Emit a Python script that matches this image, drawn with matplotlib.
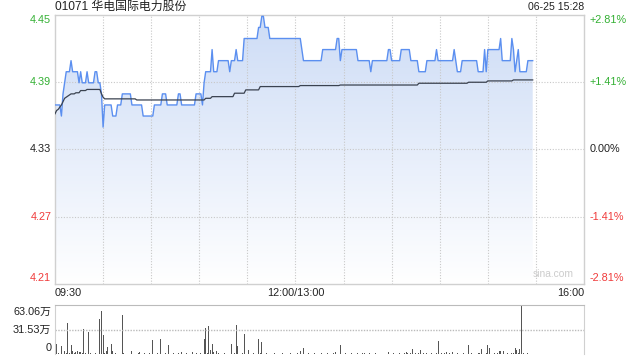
import numpy as np
import matplotlib
matplotlib.use('Agg')
import matplotlib.pyplot as plt
from matplotlib.colors import LinearSegmentedColormap

plt.rcParams['font.family'] = ['Liberation Sans', 'Noto Sans CJK SC', 'DejaVu Sans']

TITLE = '01071 华电国际电力股份'
STAMP = '06-25 15:28'
PREV_CLOSE = 4.33
RANGE_PCT = 0.0281

# minute price, stored as (level, number of minutes)
price_levels = [4.37, 4.36, 4.38, 4.39, 4.40, 4.41, 4.40, 4.39, 4.40, 4.39, 4.40, 4.39,
                4.40, 4.39, 4.38, 4.35, 4.37, 4.36, 4.37, 4.38, 4.37, 4.36, 4.37, 4.38,
                4.37, 4.38, 4.37, 4.38, 4.37, 4.39, 4.40, 4.42, 4.40, 4.41, 4.40, 4.41,
                4.42, 4.41, 4.43, 4.44, 4.45, 4.44, 4.43, 4.42, 4.41, 4.42, 4.43, 4.41,
                4.42, 4.41, 4.40, 4.41, 4.42, 4.41, 4.42, 4.41, 4.40, 4.41, 4.42, 4.41,
                4.42, 4.41, 4.40, 4.41, 4.40, 4.42, 4.40, 4.42, 4.43, 4.41, 4.43, 4.42,
                4.40, 4.41, 4.42, 4.40, 4.41]
price_runs = [4, 1, 1, 1, 3, 1, 4, 1, 1, 3, 1, 4,
              2, 2, 1, 1, 5, 3, 3, 6, 7, 7, 5, 3,
              7, 2, 9, 4, 1, 1, 4, 1, 3, 7, 1, 3,
              1, 4, 9, 2, 2, 3, 20, 1, 12, 9, 2, 1,
              10, 8, 1, 10, 2, 6, 6, 5, 5, 6, 1, 10,
              1, 1, 3, 10, 4, 1, 1, 8, 1, 6, 1, 1,
              1, 1, 1, 5, 4]

# average price line, same encoding
avg_levels = [4.362, 4.365, 4.366, 4.368, 4.370, 4.373, 4.376, 4.377, 4.378, 4.379,
              4.380, 4.381, 4.383, 4.384, 4.380, 4.377, 4.3755, 4.3745, 4.376, 4.3775,
              4.3806, 4.3836, 4.3866, 4.3875, 4.388, 4.3896, 4.3905, 4.3917, 4.3926]
avg_runs = [1, 1, 1, 1, 1, 1, 1, 1, 1, 1,
            3, 3, 4, 9, 1, 1, 20, 43, 4, 14,
            7, 9, 25, 25, 49, 31, 12, 16, 13]

# volume per minute, in 万
volume = [7.7, 12.8, 1.5, 1.0, 10.6, 11.9, 4.3, 2.0, 40.4, 2.0,
          11.9, 4.3, 1.5, 3.0, 4.3, 3.5, 3.0, 1.5, 32.0, 2.0,
          1.0, 28.9, 1.5, 1.0, 1.0, 1.5, 1.0, 1.0, 45.2, 55.4,
          24.7, 1.5, 4.3, 9.0, 1.0, 13.2, 4.3, 1.0, 1.5, 1.0,
          1.0, 1.0, 50.3, 1.5, 1.0, 1.0, 1.0, 1.0, 4.3, 1.0,
          1.0, 1.0, 1.5, 3.0, 1.0, 1.0, 1.5, 1.0, 1.0, 2.0,
          1.0, 18.3, 1.0, 1.0, 1.5, 1.0, 19.6, 1.0, 1.0, 1.5,
          1.0, 11.9, 1.0, 1.0, 1.5, 1.0, 1.0, 1.5, 1.0, 2.5,
          1.0, 1.0, 1.5, 1.0, 1.0, 1.0, 3.0, 1.0, 1.5, 1.0,
          1.0, 1.5, 1.0, 19.6, 33.6, 1.5, 36.2, 5.5, 13.2, 3.0,
          1.0, 4.3, 1.5, 1.0, 1.0, 1.0, 1.5, 1.0, 1.0, 1.0,
          13.2, 1.0, 1.5, 37.5, 10.6, 1.0, 1.0, 1.5, 26.0, 1.0,
          1.0, 5.5, 1.0, 1.0, 1.5, 1.0, 14.8, 19.2, 1.5, 15.7,
          1.0, 1.0, 1.5, 1.0, 1.0, 1.0, 1.0, 1.5, 1.0, 1.0,
          1.0, 1.0, 1.5, 1.0, 1.0, 1.0, 1.0, 1.5, 1.0, 1.0,
          1.0, 1.5, 1.0, 4.3, 1.0, 7.5, 1.0, 1.0, 1.5, 1.0,
          1.0, 1.0, 1.5, 1.0, 1.0, 1.0, 1.5, 1.0, 1.0, 1.0,
          1.5, 1.0, 1.0, 1.0, 1.5, 3.4, 1.0, 1.0, 11.9, 1.0,
          1.0, 1.5, 1.0, 1.0, 1.0, 1.5, 1.0, 1.0, 1.0, 1.5,
          1.0, 1.0, 1.5, 2.0, 1.0, 1.0, 1.5, 1.0, 1.0, 1.0,
          1.5, 1.0, 1.0, 1.0, 1.5, 1.0, 1.0, 1.0, 3.0, 1.0,
          1.0, 1.5, 1.0, 1.0, 1.0, 1.5, 1.0, 1.0, 1.5, 3.5,
          2.0, 1.0, 1.5, 7.2, 1.0, 2.0, 1.0, 1.5, 5.0, 1.0,
          1.5, 1.0, 2.0, 1.0, 1.0, 1.5, 1.0, 1.0, 1.5, 17.4,
          1.0, 1.5, 1.0, 2.0, 3.0, 1.0, 1.5, 1.0, 3.0, 1.0,
          1.0, 1.5, 1.0, 1.0, 1.0, 1.5, 1.0, 1.0, 12.3, 1.0,
          1.5, 1.0, 1.0, 1.0, 1.5, 2.0, 6.4, 1.0, 1.0, 1.5,
          11.9, 8.3, 1.0, 1.0, 1.5, 1.0, 1.5, 4.0, 4.0, 1.0,
          4.0, 1.0, 1.5, 1.0, 1.0, 1.5, 2.0, 8.5, 5.0, 1.5,
          7.0, 63.06, 1.5, 1.0, 1.0, 1.5, 1.0, 1.0, 1.0]
VOL_MAX = 63.06

time_labels = ['09:30', '12:00/13:00', '16:00']
TOTAL_MIN = 330

GREEN = '#33b033'
RED = '#f03a3a'
DARK = '#222222'
GRID = '#c8c8c8'
BORDER = '#d0d0d0'

prices = np.repeat(price_levels, price_runs)
avg = np.repeat(avg_levels, avg_runs)
t = np.arange(len(prices))

ylo = PREV_CLOSE * (1 - RANGE_PCT)
yhi = PREV_CLOSE * (1 + RANGE_PCT)

fig = plt.figure(figsize=(6.4, 3.6), dpi=100)
ax = fig.add_axes([55/640, 1 - 284/360, 529/640, 269.5/360])
axv = fig.add_axes([55/640, 1 - 354.3/360, 529/640, 49.3/360])

# price area with a vertical gradient
poly = ax.fill_between(t, prices, ylo, color='none', lw=0)
cmap = LinearSegmentedColormap.from_list('fade', ['#ffffff', '#cddcf6'])
grad = np.linspace(1, 0, 256).reshape(-1, 1)
im = ax.imshow(grad, extent=[0, t[-1], ylo, yhi], aspect='auto', cmap=cmap,
               origin='upper', zorder=1)
im.set_clip_path(poly.get_paths()[0], transform=ax.transData)
ax.plot(t, prices, color='#5b8ff0', lw=1.0, zorder=3)
ax.plot(t, avg, color='#3a4250', lw=0.9, zorder=3)

ax.set_xlim(0, TOTAL_MIN)
ax.set_ylim(ylo, yhi)
ax.set_xticks(np.arange(30, TOTAL_MIN, 30))
ax.set_yticks([PREV_CLOSE * (1 - 0.0141), PREV_CLOSE, PREV_CLOSE * (1 + 0.0141)])
ax.grid(True, color=GRID, ls=(0, (1, 1.5)), lw=0.8, zorder=0)
ax.tick_params(length=0, labelleft=False, labelbottom=False)
for s in ax.spines.values():
    s.set_color(BORDER)
    s.set_linewidth(1.0)

px = (yhi - ylo) / 269.5
left_ticks = [(yhi - 5.5 * px, '4.45', GREEN), (PREV_CLOSE * 1.0141, '4.39', GREEN),
              (PREV_CLOSE, '4.33', DARK), (PREV_CLOSE * 0.9859, '4.27', RED),
              (ylo + 6 * px, '4.21', RED)]
right_ticks = ['+2.81%', '+1.41%', '0.00%', '-1.41%', '-2.81%']
tr = ax.get_yaxis_transform()
for (y, lab, c), rlab in zip(left_ticks, right_ticks):
    ax.text(-0.007, y, lab, transform=tr, ha='right', va='center', color=c, fontsize=7.8)
    ax.text(1.011, y, rlab, transform=tr, ha='left', va='center', color=c, fontsize=7.8)

ax.text(0.0, 1.0 + 0.028, TITLE, transform=ax.transAxes, ha='left', va='center',
        fontsize=8.6, color=DARK)
ax.text(1.0, 1.0 + 0.028, STAMP, transform=ax.transAxes, ha='right', va='center',
        fontsize=7.6, color=DARK)
ax.text(0.0, -0.035, time_labels[0], transform=ax.transAxes, ha='left', va='center',
        fontsize=7.8, color=DARK)
ax.text(150 / TOTAL_MIN, -0.035, time_labels[1], transform=ax.transAxes, ha='center',
        va='center', fontsize=7.8, color=DARK)
ax.text(1.0, -0.035, time_labels[2], transform=ax.transAxes, ha='right', va='center',
        fontsize=7.8, color=DARK)
ax.text(0.98, 0.02, 'sina.com', transform=ax.transAxes, ha='right', va='bottom',
        fontsize=7.4, color='#cccccc')

# volume panel
axv.bar(np.arange(len(volume)), volume, width=0.6, color='#555555', lw=0)
axv.set_xlim(0, TOTAL_MIN)
axv.set_ylim(0, VOL_MAX)
axv.set_yticks([VOL_MAX / 2])
axv.set_xticks([])
axv.grid(True, axis='y', color='#bbbbbb', ls=(0, (1, 1)), lw=1.0)
axv.tick_params(length=0, labelleft=False, labelbottom=False)
axv.spines['bottom'].set_visible(False)
axv.spines['top'].set_color('#bbbbbb')
axv.spines['top'].set_linestyle((0, (1, 1)))
for side in ['left', 'right']:
    axv.spines[side].set_color(BORDER)
vpx = VOL_MAX / 49.3
vtr = axv.get_yaxis_transform()
for y, lab in [(VOL_MAX - 6.7 * vpx, '63.06万'), (VOL_MAX / 2, '31.53万'), (6 * vpx, '0')]:
    axv.text(-0.007, y, lab, transform=vtr, ha='right', va='center', fontsize=7.8,
             color=DARK)

fig.savefig('out.png', dpi=100)
